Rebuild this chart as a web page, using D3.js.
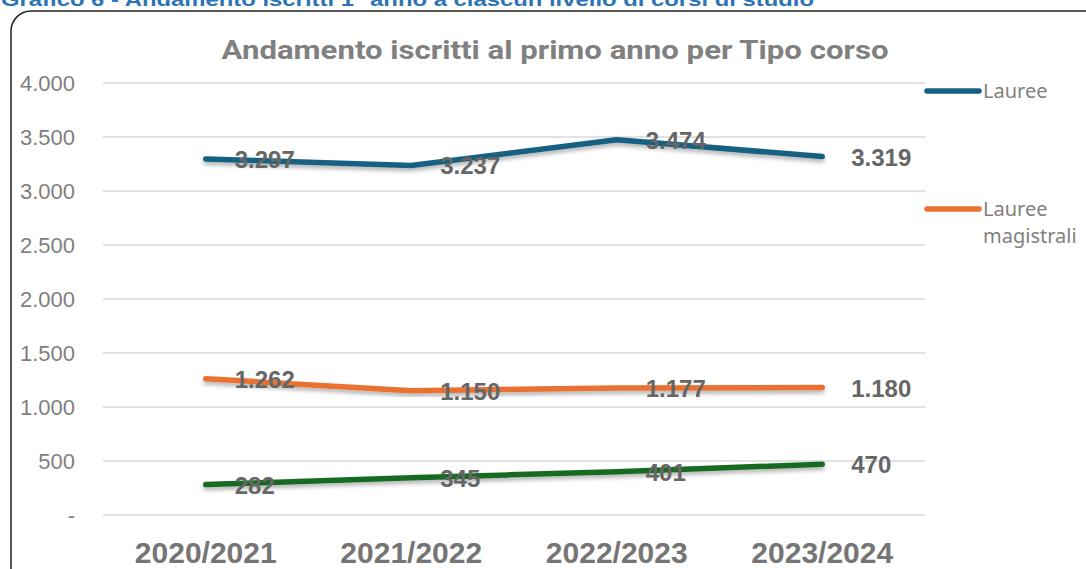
<!DOCTYPE html>
<html>
<head>
<meta charset="utf-8">
<script src="https://cdn.jsdelivr.net/npm/d3@7"></script>
<style>
  body { margin: 0; background: #fff; }
  svg { display: block; }
</style>
</head>
<body>
<svg id="chart" width="1086" height="569"></svg>
<script>
// categories and series
const years = ["2020/2021", "2021/2022", "2022/2023", "2023/2024"];
const lauree = [3297, 3237, 3474, 3319];
const magistrali = [1262, 1150, 1177, 1180];
const ciclo = [282, 345, 401, 470];
const yTicks = [0, 500, 1000, 1500, 2000, 2500, 3000, 3500, 4000];

const series = [
  { name: "Lauree", values: lauree, color: "#156082", legend: ["Lauree"] },
  { name: "Lauree magistrali", values: magistrali, color: "#E97132", legend: ["Lauree", "magistrali"] },
  { name: "Ciclo unico", values: ciclo, color: "#196B24", legend: null }
];

const svg = d3.select("#chart");
const fmt = v => v === 0 ? "-" : d3.format(",")(v).replace(/,/g, ".");

// shadow under the lines
const defs = svg.append("defs");
defs.append("filter").attr("id", "shadow")
  .attr("x", "-10%").attr("y", "-50%").attr("width", "120%").attr("height", "200%")
  .append("feDropShadow")
  .attr("dx", 0).attr("dy", 3).attr("stdDeviation", 2)
  .attr("flood-color", "#000").attr("flood-opacity", 0.3);

// heading above the box (partly cut at the top, as in the source)
svg.append("text")
  .attr("x", 1).attr("y", 6)
  .attr("font-family", "Liberation Sans, Arial, sans-serif")
  .attr("font-weight", "bold").attr("font-size", 19)
  .attr("fill", "#2E74B5")
  .attr("textLength", 813).attr("lengthAdjust", "spacingAndGlyphs")
  .text("Grafico 6 - Andamento iscritti 1° anno a ciascun livello di corsi di studio");

// rounded frame
svg.append("rect")
  .attr("x", 11).attr("y", 11).attr("width", 1100).attr("height", 580)
  .attr("rx", 20).attr("ry", 20)
  .attr("fill", "none").attr("stroke", "#222").attr("stroke-width", 1.5);

const x = d3.scaleBand().domain(years).range([103, 925]);
const y = d3.scaleLinear().domain([0, 4000]).range([515, 83]);

// gridlines
svg.append("g").selectAll("line").data(yTicks).join("line")
  .attr("x1", 103).attr("x2", 925)
  .attr("y1", d => y(d)).attr("y2", d => y(d))
  .attr("stroke", "#d9d9d9").attr("stroke-width", 1.5);

// y axis labels
svg.append("g").selectAll("text").data(yTicks).join("text")
  .attr("x", 75).attr("y", d => y(d) + 8)
  .attr("text-anchor", "end")
  .attr("font-family", "Liberation Sans, Arial, sans-serif")
  .attr("font-size", 22).attr("fill", "#7f7f7f")
  .text(fmt);

// x axis labels
svg.append("g").selectAll("text").data(years).join("text")
  .attr("x", d => x(d) + x.bandwidth() / 2).attr("y", 563)
  .attr("text-anchor", "middle")
  .attr("font-family", "Liberation Sans, Arial, sans-serif")
  .attr("font-weight", "bold").attr("font-size", 30).attr("fill", "#757575")
  .text(d => d);

// title
svg.append("text")
  .attr("x", 555).attr("y", 59)
  .attr("text-anchor", "middle")
  .attr("font-family", "Roboto, sans-serif")
  .attr("font-weight", "bold").attr("font-size", 26).attr("fill", "#808080")
  .attr("textLength", 667).attr("lengthAdjust", "spacingAndGlyphs")
  .text("Andamento iscritti al primo anno per Tipo corso");

const line = d3.line()
  .x((d, i) => x(years[i]) + x.bandwidth() / 2)
  .y(d => y(d));

series.forEach(s => {
  svg.append("path")
    .attr("d", line(s.values))
    .attr("fill", "none").attr("stroke", s.color)
    .attr("stroke-width", 5.5).attr("stroke-linecap", "round").attr("stroke-linejoin", "round")
    .attr("filter", "url(#shadow)");
});

// data labels
series.forEach(s => {
  svg.append("g").selectAll("text").data(s.values).join("text")
    .attr("x", (d, i) => x(years[i]) + x.bandwidth() / 2 + 29)
    .attr("y", d => y(d) + 9)
    .attr("font-family", "Liberation Sans, Arial, sans-serif")
    .attr("font-weight", "bold").attr("font-size", 24).attr("fill", "#666")
    .text(fmt);
});

// legend
const legendY = [91, 209];
series.filter(s => s.legend).forEach((s, i) => {
  const ly = legendY[i];
  svg.append("line")
    .attr("x1", 927).attr("x2", 979).attr("y1", ly).attr("y2", ly)
    .attr("stroke", s.color).attr("stroke-width", 5.5).attr("stroke-linecap", "round");
  svg.append("text")
    .attr("x", 983).attr("y", ly + 7)
    .attr("font-family", "Noto Sans, sans-serif")
    .attr("font-size", 20).attr("fill", "#808080")
    .selectAll("tspan").data(s.legend).join("tspan")
    .attr("x", 983).attr("dy", (d, j) => j === 0 ? 0 : 27)
    .text(d => d);
});
</script>
</body>
</html>
